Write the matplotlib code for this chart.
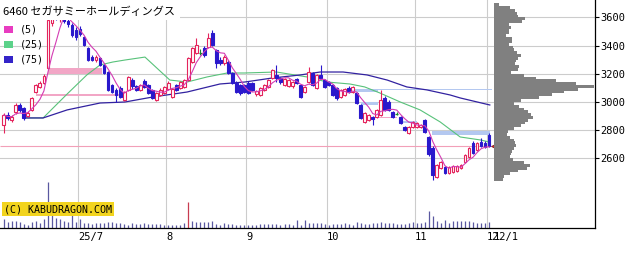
import numpy as np
import pandas as pd
import matplotlib
matplotlib.use("Agg")
import matplotlib.pyplot as plt
from matplotlib.patches import Rectangle

plt.rcParams['font.family'] = ['Noto Sans CJK JP', 'DejaVu Sans']

title = "6460 セガサミーホールディングス"

# trading day index, 0 = 2025-07-01
start_day = -19
opens = [2836, 2907, 2872, 2929, 2978, 2957, 2900, 2943, 3070, 3106,
         3134, 3241, 3560, 3630, 3590, 3640, 3575, 3545, 3510, 3520,
         3460, 3382, 3318, 3297, 3311, 3262, 3212, 3120, 3085, 3099,
         3014, 3085, 3155, 3113, 3085, 3148, 3120, 3085, 3014, 3049,
         3063, 3092, 3035, 3120, 3099, 3106, 3155, 3283, 3347, 3350,
         3382, 3390, 3489, 3368, 3297, 3275, 3283, 3205, 3134, 3120,
         3120, 3134, 3134, 3056, 3049, 3085, 3106, 3170, 3191, 3170,
         3120, 3113, 3113, 3163, 3120, 3070, 3141, 3205, 3099, 3191,
         3155, 3141, 3120, 3099, 3035, 3049, 3099, 3070, 3063, 2978,
         2858, 2872, 2893, 2893, 2907, 3028, 3000, 2929, 2915, 2893,
         2822, 2780, 2822, 2822, 2822, 2872, 2750, 2674, 2468, 2532,
         2539, 2496, 2503, 2510, 2532, 2574, 2610, 2710, 2659, 2717,
         2710, 2766]
highs = [2920, 2930, 2905, 2990, 2995, 2965, 2935, 3035, 3130, 3145,
         3195, 3600, 3680, 3690, 3660, 3660, 3590, 3560, 3530, 3540,
         3470, 3390, 3330, 3330, 3320, 3270, 3220, 3130, 3095, 3110,
         3080, 3185, 3170, 3120, 3130, 3160, 3130, 3090, 3070, 3095,
         3115, 3145, 3100, 3130, 3150, 3165, 3320, 3390, 3453, 3375,
         3395, 3489, 3510, 3375, 3320, 3330, 3295, 3215, 3145, 3130,
         3130, 3145, 3140, 3085, 3105, 3125, 3160, 3235, 3262, 3180,
         3170, 3160, 3150, 3170, 3130, 3115, 3248, 3215, 3200, 3262,
         3165, 3150, 3130, 3105, 3090, 3100, 3110, 3115, 3070, 2985,
         2930, 2915, 2900, 2950, 3085, 3040, 3010, 2935, 2925, 2900,
         2830, 2830, 2865, 2855, 2845, 2880, 2760, 2685, 2560, 2580,
         2545, 2545, 2550, 2550, 2560, 2630, 2680, 2720, 2715, 2745,
         2720, 2780]
lows = [2780, 2872, 2860, 2915, 2930, 2870, 2890, 2935, 3060, 3095,
        3125, 3230, 3540, 3580, 3570, 3560, 3530, 3460, 3440, 3470,
        3395, 3290, 3290, 3285, 3255, 3195, 3075, 3060, 3000, 3030,
        3005, 3080, 3090, 3075, 3075, 3100, 3055, 3020, 3005, 3040,
        3055, 3085, 3025, 3075, 3090, 3100, 3150, 3275, 3340, 3330,
        3320, 3380, 3395, 3240, 3260, 3265, 3195, 3125, 3060, 3050,
        3060, 3055, 3080, 3045, 3040, 3075, 3095, 3160, 3141, 3130,
        3110, 3105, 3100, 3125, 3025, 3060, 3135, 3110, 3090, 3160,
        3095, 3110, 3040, 3015, 3025, 3040, 3060, 3060, 2985, 2875,
        2850, 2865, 2836, 2885, 2900, 2935, 2935, 2885, 2905, 2840,
        2795, 2775, 2815, 2815, 2815, 2780, 2615, 2447, 2460, 2525,
        2490, 2490, 2495, 2500, 2525, 2565, 2600, 2630, 2650, 2680,
        2675, 2680]
closes = [2907, 2886, 2893, 2978, 2943, 2886, 2922, 3028, 3120, 3134,
          3184, 3581, 3620, 3600, 3640, 3575, 3550, 3475, 3460, 3480,
          3404, 3297, 3297, 3318, 3262, 3205, 3085, 3070, 3049, 3035,
          3070, 3177, 3113, 3085, 3120, 3106, 3063, 3028, 3063, 3085,
          3106, 3134, 3092, 3085, 3141, 3155, 3311, 3382, 3404, 3350,
          3333, 3453, 3404, 3275, 3275, 3318, 3205, 3134, 3070, 3063,
          3070, 3063, 3085, 3078, 3099, 3120, 3155, 3226, 3170, 3141,
          3163, 3155, 3141, 3134, 3035, 3106, 3212, 3120, 3191, 3170,
          3106, 3120, 3049, 3028, 3085, 3092, 3070, 3106, 2992, 2886,
          2922, 2907, 2879, 2943, 3014, 2943, 2943, 2893, 2915, 2850,
          2801, 2822, 2858, 2850, 2836, 2787, 2630, 2482, 2553, 2574,
          2496, 2539, 2546, 2546, 2553, 2624, 2674, 2638, 2710, 2688,
          2681, 2690]
volume = [435, 300, 335, 350, 315, 200, 165, 300, 335, 265,
          435, 2300, 735, 500, 435, 335, 300, 700, 300, 435,
          265, 235, 200, 235, 250, 265, 325, 325, 235, 235,
          200, 165, 235, 200, 200, 235, 200, 200, 200, 200,
          165, 165, 165, 165, 165, 235, 1300, 335, 300, 300,
          300, 300, 335, 200, 165, 235, 200, 200, 165, 165,
          165, 165, 165, 165, 200, 200, 200, 200, 200, 165,
          200, 200, 165, 400, 165, 400, 265, 265, 235, 265,
          200, 165, 200, 200, 200, 235, 200, 165, 300, 235,
          200, 200, 265, 265, 300, 265, 235, 235, 200, 200,
          200, 265, 300, 235, 235, 300, 850, 600, 350, 250,
          400, 250, 365, 365, 365, 350, 350, 325, 250, 250,
          250, 300]
vol_red_day = 27

month_days = [0, 22, 42, 62, 84, 102]
month_labels = ["25/7", "8", "9", "10", "11", "12"]
last_date_label = "12/1"
price_ticks = [2600, 2800, 3000, 3200, 3400, 3600]

ma25_day = [-13.7, -9.2, -3.2, 1.7, 5.0, 8.2, 11.2, 16.2, 22.4, 26.7, 31.7, 36.7,
            41.0, 49.0, 56.6, 61.6, 67.3, 71.0, 74.8, 79.8, 84.8, 89.8, 94.8, 99.8, 102.0]
ma25_val = [2886, 2886, 3056, 3191, 3262, 3283, 3297, 3318, 3155, 3141, 3177, 3205,
            3205, 3212, 3177, 3141, 3127, 3106, 3063, 3000, 2943, 2858, 2751, 2730, 2716]
ma75_day = [-13.7, -9.2, -3.2, 5.0, 11.2, 18.2, 26.7, 34.9, 41.1, 48.1, 54.9, 59.9,
            65.6, 71.6, 76.6, 81.5, 86.5, 92.3, 94.8, 102.2]
ma75_val = [2886, 2886, 2943, 2992, 2999, 3035, 3070, 3127, 3141, 3170, 3191, 3212,
            3212, 3191, 3155, 3106, 3085, 3049, 3028, 2978]

# window (gap) zones: start day, end day, low, high, up/down
gaps = [(-8, 5.5, 3200, 3240, "up"),
        (-11, 11.2, 3045, 3056, "up"),
        (73.6, 79, 2886, 2894, "up"),
        (68, 102.7, 3082, 3088, "down"),
        (68.5, 74.3, 3072, 3090, "down"),
        (70, 74.3, 2978, 3000, "down"),
        (80.5, 84, 2850, 2865, "down"),
        (87.8, 102.2, 2766, 2795, "down")]

# volume by price, 20 yen bins from 2440
profile_vol = [9, 10, 16, 24, 33, 36, 30, 19, 16, 17,
               18, 20, 22, 21, 20, 16, 13, 14, 20, 27,
               31, 34, 39, 37, 34, 30, 25, 20, 27, 45,
               58, 70, 84, 100, 82, 62, 42, 30, 17, 24,
               25, 21, 22, 24, 27, 23, 20, 19, 15, 18,
               18, 12, 15, 15, 17, 15, 28, 31, 24, 23,
               21, 16, 5]
profile_bins = 2450 + 20 * np.arange(len(profile_vol))

red = '#e4245c'
blue = '#2a18cc'
green = '#1a8a2a'
mono = 'DejaVu Sans Mono'

days = np.arange(start_day, start_day + len(closes))
o = np.array(opens); h = np.array(highs); l = np.array(lows); c = np.array(closes)

xlim = (-19.95, 128.43)
ylim = (2105, 3723)

fig = plt.figure(figsize=(6.4, 2.54), dpi=100)
rect = [0, 26/254, 595/640, 228/254]

# volume
ax_v = fig.add_axes(rect)
ax_v.set_xlim(xlim)
ax_v.set_ylim(0, 11400)
vcol = np.where(days == vol_red_day, '#c83c50', '#5a58a0')
ax_v.vlines(days, 0, volume, colors=vcol, lw=0.9)
ax_v.axis('off')

ax = fig.add_axes(rect, facecolor='none')
ax.set_xlim(xlim)
ax.set_ylim(ylim)
ax.set_xticks(np.array(month_days) - 0.5)
ax.set_xticklabels(month_labels, family=mono)
for lbl in ax.get_xticklabels():
    lbl.set_ha('left')
ax.set_yticks(price_ticks)
ax.set_yticklabels([str(p) for p in price_ticks], family=mono)
ax.yaxis.tick_right()
ax.tick_params(axis='x', length=0, pad=3, labelsize=7.5)
ax.tick_params(axis='y', length=3, width=0.8, pad=1, labelsize=7.5)
ax.grid(True, color='#cccccc', lw=0.8)
ax.set_axisbelow(True)
for s in ['top', 'left']:
    ax.spines[s].set_visible(False)
for s in ['right', 'bottom']:
    ax.spines[s].set_linewidth(0.9)

# date of the last candle, next to the month label
ax.text(days[-1] + 1.2, -4/228, last_date_label, transform=ax.get_xaxis_transform(),
        family=mono, fontsize=7.5, ha='left', va='top')

# gap zones
for g0, g1, lo, hi, kind in gaps:
    col = '#f2a6c6' if kind == "up" else '#b4c8f0'
    ax.add_patch(Rectangle((g0, lo), g1 - g0, hi - lo, facecolor=col, edgecolor='none', zorder=1))

# last price line
ax.hlines(c[-1], xlim[0], days[-1] + 0.6, color='#f2a0b8', lw=0.8, zorder=1)

# moving averages
ma5 = pd.Series(c).rolling(5, min_periods=1).mean()
ax.plot(ma25_day, ma25_val, color='#58c27a', lw=0.8, zorder=2)
ax.plot(ma75_day, ma75_val, color='#3222a0', lw=0.9, zorder=2)

# candles
up = c > o
dn = c < o
fl = c == o
ax.vlines(days[up], l[up], h[up], color=red, lw=0.8, zorder=3)
ax.bar(days[up], c[up] - o[up], bottom=o[up], width=0.7, facecolor='white',
       edgecolor=red, lw=0.8, zorder=4)
ax.vlines(days[dn], l[dn], h[dn], color=blue, lw=0.8, zorder=3)
ax.bar(days[dn], o[dn] - c[dn], bottom=c[dn], width=0.7, facecolor=blue,
       edgecolor=blue, lw=0.8, zorder=4)
ax.vlines(days[fl], l[fl], h[fl], color=green, lw=0.8, zorder=3)
ax.hlines(c[fl], days[fl] - 0.4, days[fl] + 0.4, color=green, lw=0.9, zorder=4)
ax.plot(days, ma5, color='#d43cb4', lw=0.8, zorder=5)

ax.plot(days[-1] + 1.6, c[-1], marker='<', ms=5.5, mfc='#e82020', mec='#802020', mew=0.6,
        zorder=6, clip_on=False)

# title area
ax.add_patch(Rectangle((0, 1 - 20/228), 180/595, 20/228, transform=ax.transAxes,
                       facecolor='white', edgecolor='none', zorder=8))
ax.text(3/595, 1 - 12/228, title, transform=ax.transAxes, fontsize=8, va='center',
        ha='left', zorder=9)

# legend
leg = [("(5)", '#e83cc0'), ("(25)", '#5cd28a'), ("(75)", '#3424c8')]
for k, (txt, col) in enumerate(leg):
    yc = 1 - (29.5 + 15 * k) / 228
    ax.add_patch(Rectangle((4/595, yc - 3.5/228), 9/595, 7/228, transform=ax.transAxes,
                           facecolor=col, edgecolor='none', zorder=9))
    ax.text(20/595, yc, txt, transform=ax.transAxes, family=mono, fontsize=7.2,
            va='center', ha='left', zorder=9)

ax.text(4/595, 1 - 209/228, "(C) KABUDRAGON.COM", transform=ax.transAxes,
        family=mono, fontsize=7.2, va='center', ha='left', zorder=9,
        bbox=dict(facecolor='#f2d41e', edgecolor='none', pad=1.2))

# volume profile
ax_p = fig.add_axes([494/640, 26/254, 101/640, 228/254], facecolor='none')
ax_p.set_ylim(ylim)
ax_p.set_xlim(0, 101)
ax_p.barh(profile_bins, profile_vol, height=20, color='#808080', lw=0)
ax_p.axis('off')

fig.savefig("out.png", dpi=100, facecolor='white')
